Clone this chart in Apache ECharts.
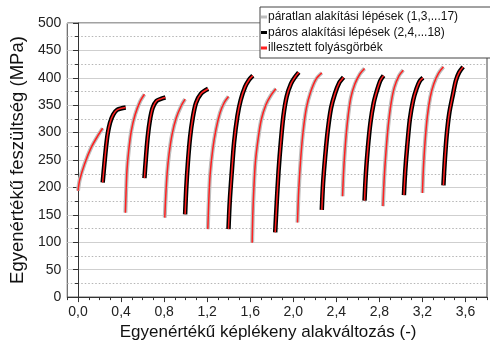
<!DOCTYPE html>
<html>
<head>
<meta charset="utf-8">
<script src="https://cdn.jsdelivr.net/npm/echarts@6/dist/echarts.min.js"></script>
<style>html,body{margin:0;padding:0;background:#fff;}#c{width:490px;height:346px;}</style>
</head>
<body>
<div id="c"></div>
<script>
// ---- data ----
const legendNames = ['páratlan alakítási lépések (1,3,...17)', 'páros alakítási lépések (2,4,...18)', 'illesztett folyásgörbék'];
const xLabelValues = [0, 0.4, 0.8, 1.2, 1.6, 2.0, 2.4, 2.8, 3.2, 3.6];
const yLabelValues = [0, 50, 100, 150, 200, 250, 300, 350, 400, 450, 500];

const step01 = [[0.00,194],[0.016,214],[0.061,243],[0.123,273],[0.183,294],[0.229,308]];
const step02 = [[0.229,209],[0.245,243],[0.26,273],[0.275,297],[0.297,318],[0.327,333],[0.366,342],[0.443,346]];
const step03 = [[0.44,154],[0.446,190],[0.455,232],[0.471,267],[0.495,303],[0.531,333],[0.577,357],[0.617,370]];
const step04 = [[0.617,217],[0.629,249],[0.647,291],[0.669,324],[0.693,345],[0.73,358],[0.776,362],[0.812,364]];
const step05 = [[0.806,145],[0.815,184],[0.828,226],[0.846,261],[0.874,297],[0.913,327],[0.959,349],[0.995,361]];
const step06 = [[0.995,151],[1.005,196],[1.02,243],[1.041,291],[1.066,327],[1.096,354],[1.142,371],[1.209,380]];
const step07 = [[1.206,124],[1.215,175],[1.227,223],[1.252,270],[1.282,306],[1.319,336],[1.359,355],[1.398,366]];
const step08 = [[1.398,124],[1.41,175],[1.429,229],[1.45,282],[1.481,330],[1.511,359],[1.551,383],[1.588,396],[1.624,404]];
const step09 = [[1.618,99],[1.624,151],[1.634,199],[1.648,246],[1.673,288],[1.703,324],[1.746,351],[1.792,368],[1.838,380]];
const step10 = [[1.832,118],[1.847,175],[1.863,229],[1.884,282],[1.908,330],[1.939,366],[1.978,389],[2.015,401],[2.051,410]];
const step11 = [[2.039,136],[2.051,196],[2.07,255],[2.092,303],[2.122,345],[2.161,374],[2.213,398],[2.265,409]];
const step12 = [[2.265,159],[2.277,208],[2.296,255],[2.32,303],[2.351,345],[2.387,371],[2.427,391],[2.467,401]];
const step13 = [[2.458,184],[2.467,226],[2.482,273],[2.504,321],[2.534,363],[2.573,389],[2.619,407],[2.662,417]];
const step14 = [[2.662,176],[2.674,223],[2.692,270],[2.717,318],[2.747,354],[2.778,377],[2.809,395],[2.839,404]];
const step15 = [[2.833,166],[2.845,217],[2.861,264],[2.882,312],[2.909,354],[2.94,383],[2.983,404],[3.022,414]];
const step16 = [[3.028,186],[3.04,229],[3.059,276],[3.083,324],[3.114,359],[3.145,380],[3.175,394],[3.205,400]];
const step17 = [[3.2,190],[3.209,234],[3.224,282],[3.246,330],[3.273,365],[3.306,389],[3.349,408],[3.395,420]];
const step18 = [[3.395,204],[3.407,246],[3.425,294],[3.45,336],[3.485,371],[3.511,395],[3.541,410],[3.578,420]];

const oddSteps = [step01, step03, step05, step07, step09, step11, step13, step15, step17];
const evenSteps = [step02, step04, step06, step08, step10, step12, step14, step16, step18];

// ---- build chart ----
const FONT = '"Liberation Sans", Arial, sans-serif';
const series = [];
oddSteps.forEach(d => series.push({
  name: legendNames[0], type: 'line', data: d, symbol: 'none', smooth: 0.3,
  lineStyle: {color: '#bdbdbd', width: 4}, itemStyle: {color: '#bdbdbd'}, z: 2
}));
evenSteps.forEach(d => series.push({
  name: legendNames[1], type: 'line', data: d, symbol: 'none', smooth: 0.3,
  lineStyle: {color: '#000', width: 4.5}, itemStyle: {color: '#000'}, z: 3
}));
oddSteps.concat(evenSteps).forEach(d => series.push({
  name: legendNames[2], type: 'line', data: d, symbol: 'none', smooth: 0.3,
  lineStyle: {color: '#ff2020', width: 1.5}, itemStyle: {color: '#ff2020'}, z: 4
}));

const fmt = v => (Math.round(v * 10) / 10).toFixed(1).replace('.', ',');

const option = {
  animation: false,
  textStyle: {fontFamily: FONT},
  grid: {left: 61, right: 3, top: 23, bottom: 43, show: true, borderColor: '#444', borderWidth: 1},
  legend: {
    left: 260, top: 7, orient: 'vertical',
    data: legendNames.map((n, i) => ({name: n, icon: 'rect', itemStyle: {color: ['#bdbdbd', '#000', '#ff2020'][i]}})),
    itemWidth: 6, itemHeight: 3, itemGap: 1.5,
    padding: [3, 40, 3, 1],
    backgroundColor: '#fff', borderColor: '#444', borderWidth: 1,
    textStyle: {fontSize: 12, fontFamily: FONT, color: '#111', lineHeight: 14, padding: [0, 0, 0, -4]}
  },
  xAxis: [{
    type: 'value', min: -0.1, max: 3.8,
    name: 'Egyenértékű képlékeny alakváltozás (-)', nameLocation: 'middle', nameGap: 24,
    nameTextStyle: {fontSize: 17, color: '#111', fontFamily: FONT, padding: [0, 18, 0, 0]},
    axisLine: {show: true, onZero: false, lineStyle: {color: '#333', width: 1}},
    axisTick: {show: true, customValues: xLabelValues, length: 5, lineStyle: {color: '#333'}},
    axisLabel: {customValues: xLabelValues, formatter: fmt, fontSize: 14, color: '#222', margin: 8, fontFamily: FONT},
    splitLine: {show: false}
  }, {
    type: 'value', min: -0.1, max: 3.8, interval: 0.1, position: 'bottom',
    axisLine: {show: false}, axisLabel: {show: false}, splitLine: {show: false},
    axisTick: {show: true, length: 3, lineStyle: {color: '#333'}}
  }],
  yAxis: [{
    type: 'value', min: 0, max: 500, interval: 50,
    name: 'Egyenértékű feszültség (MPa)', nameLocation: 'middle', nameGap: 32,
    nameTextStyle: {fontSize: 18.5, color: '#111', fontFamily: FONT},
    axisLine: {show: true, lineStyle: {color: '#333', width: 1}},
    axisTick: {show: true, length: 5, lineStyle: {color: '#333'}},
    minorTick: {show: true, splitNumber: 2, length: 3, lineStyle: {color: '#333'}},
    axisLabel: {fontSize: 14, color: '#222', margin: 6, fontFamily: FONT},
    splitLine: {show: true, lineStyle: {color: '#cfcfcf', width: 1}},
    minorSplitLine: {show: true, lineStyle: {color: '#b5b5b5', width: 1, type: [1.5, 2]}}
  }],
  series: series
};
const chart = echarts.init(document.getElementById('c'), null, {renderer: 'canvas'});
chart.setOption(option);
</script>
</body>
</html>
